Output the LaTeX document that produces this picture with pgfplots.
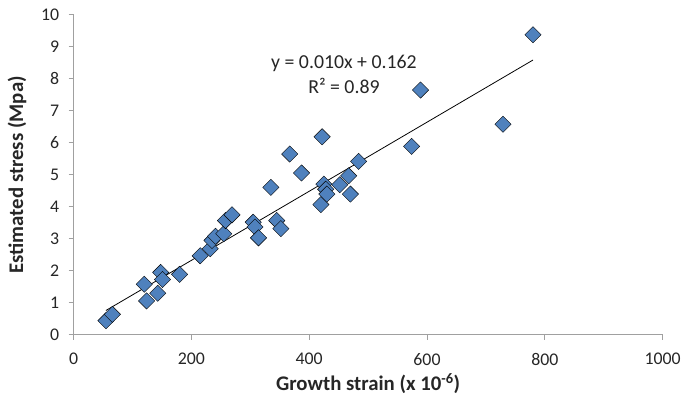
\documentclass[border=0pt]{standalone}
\usepackage{fontspec}
\setmainfont{Carlito}
\usepackage{pgfplots}
\pgfplotsset{compat=1.18}
\definecolor{ptblue}{HTML}{4F81BD}
\definecolor{axgray}{HTML}{A0A0A0}
\definecolor{txt}{HTML}{262626}
\begin{document}
\begin{tikzpicture}
\begin{axis}[
  scale only axis,
  width=593bp, height=322bp,
  xmin=0, xmax=1000, ymin=0, ymax=10,
  xtick={0,200,...,1000}, ytick={0,1,...,10},
  axis x line*=bottom, axis y line*=left,
  axis line style={axgray, line width=0.9pt},
  every tick/.style={axgray, line width=0.9pt},
  tick align=outside, major tick length=5bp,
  tick label style={font=\fontsize{18}{20}\selectfont, text=txt},
  /pgf/number format/assume math mode=true,
  /pgf/number format/1000 sep={},
  xticklabel style={yshift=-10bp},
  yticklabel style={xshift=-6bp},
  xlabel={\textbf{Growth strain (x 10\textsuperscript{-6})}},
  ylabel={\textbf{Estimated stress (Mpa)}},
  label style={font=\fontsize{21}{24}\selectfont, text=txt},
  xlabel style={yshift=-1bp},
  ylabel style={yshift=8bp},
  clip=false,
]
\addplot[only marks, mark=square*, mark size=5.8bp, mark options={rotate=45, draw=none, fill=ptblue}]
coordinates {
(55,0.44)(66,0.64)(120,1.58)(124,1.06)(143,1.30)(148,1.95)(151,1.73)(180,1.89)
(215,2.47)(232,2.69)(235,2.95)(241,3.08)(255,3.16)(258,3.57)(269,3.75)
(305,3.52)(308,3.37)(314,3.03)(335,4.61)(345,3.57)(352,3.32)(367,5.65)(387,5.06)
(420,4.07)(422,6.19)(425,4.71)(428,4.55)(430,4.40)(452,4.69)(467,4.97)(470,4.40)
(484,5.42)(574,5.89)(589,7.65)(729,6.58)(780,9.38)
};
\addplot[black, line width=0.8pt] coordinates {(55,0.76)(780,8.59)};
\node[font=\fontsize{20}{25}\selectfont, text=txt, align=center] at (axis cs:459,8.15) {y = 0.010x + 0.162\\R² = 0.89};
\end{axis}
\path (current axis.south west) ++(-74bp,-66bp) rectangle ([xshift=17bp,yshift=15bp]current axis.north east);
\end{tikzpicture}
\end{document}
